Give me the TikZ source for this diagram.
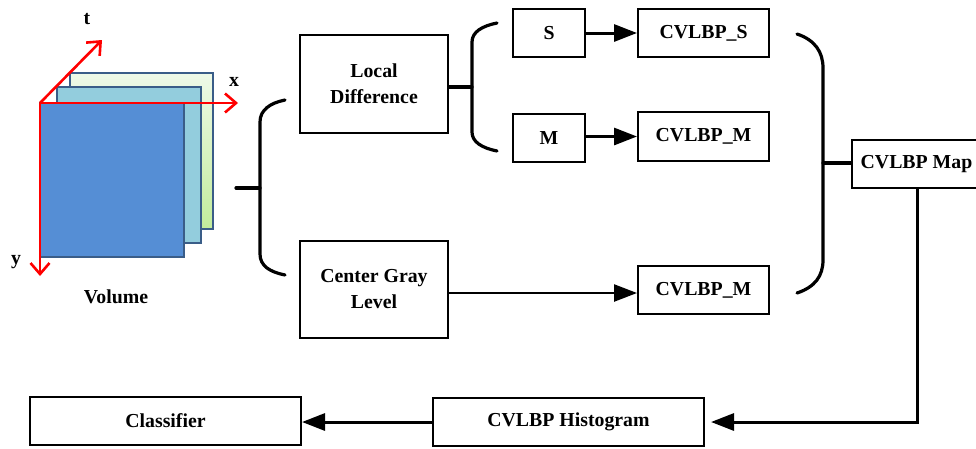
\documentclass[tikz,border=0pt]{standalone}
\usepackage{fontspec}
\setmainfont{Liberation Serif}
\usetikzlibrary{arrows.meta}
\definecolor{sqborder}{HTML}{3A5D88}
\definecolor{frontblue}{HTML}{558ED5}
\definecolor{midblue}{HTML}{93CDDD}
\definecolor{greentop}{HTML}{EEF9E8}
\definecolor{greenbot}{HTML}{C2EC9C}
\definecolor{axisred}{HTML}{FF0000}
\begin{document}
\begin{tikzpicture}[x=1pt,y=-1pt,
  font=\fontsize{19.8}{26}\selectfont\bfseries,
  box/.style={draw=black,line width=2pt,fill=white,inner sep=0pt,align=center},
  conn/.style={line width=3.2pt,line cap=round},
  thinconn/.style={line width=2.4pt},
  arr/.style={line width=3pt,-{Triangle[length=23pt,width=17pt]}},
  axis/.style={draw=axisred,line width=2.6pt,-{Straight Barb[length=11pt,width=19pt,line width=2.6pt]}},
  sq/.style={draw=sqborder,line width=1.8pt},
  lbl/.style={inner sep=0pt,anchor=base}]
\clip (0,0) rectangle (976,448);
\fill[white] (0,0) rectangle (976,448);
% volume
\shade[top color=greentop,bottom color=greenbot] (70,73) rectangle (213,229);
\draw[sq] (70,73) rectangle (213,229);
\draw[sq,fill=midblue] (57,87) rectangle (201,243);
\draw[sq,fill=frontblue] (40,103) rectangle (184,257);
\coordinate (O) at (40,103);
\coordinate (Xt) at (238,103);
\coordinate (Tt) at (102,40);
\coordinate (Yt) at (40,276);
\draw[axis] (O) -- (Xt);
\draw[axis] (O) -- (Tt);
\draw[axis] (O) -- (Yt);
\node[lbl] (tl) at (87,24) {t};
\node[lbl] (xl) at (234,86) {x};
\node[lbl] (yl) at (16,264) {y};
\node[lbl] (vol) at (116,303) {Volume};
% boxes
\node[box,minimum width=148pt,minimum height=98pt] (LD) at (374,84) {Local\\Difference};
\node[box,minimum width=148pt,minimum height=97pt] (CG) at (374,289.5) {Center Gray\\Level};
\node[box,minimum width=72pt,minimum height=48pt] (S) at (549,33) {S};
\node[box,minimum width=72pt,minimum height=48pt] (M) at (549,138) {M};
\node[box,minimum width=131pt,minimum height=48pt] (CS) at (703.5,33) {CVLBP\_S};
\node[box,minimum width=131pt,minimum height=49pt] (CM1) at (703.5,136.5) {CVLBP\_M};
\node[box,minimum width=131pt,minimum height=48pt] (CM2) at (703.5,290) {CVLBP\_M};
\node[box,minimum width=129pt,minimum height=48pt] (Map) at (916.5,164) {CVLBP Map};
\node[box,minimum width=271pt,minimum height=48pt] (Hist) at (568.5,422) {CVLBP Histogram};
\node[box,minimum width=271pt,minimum height=48pt] (Cls) at (165.5,421) {Classifier};
% brace 1
\coordinate (b1s) at (236,188);
\coordinate (b1m) at (260,188);
\draw[conn] (b1s) -- (b1m);
\draw[conn] (285,100) .. controls (270,103) and (260,110) .. (260,122) -- (260,254) .. controls (260,266) and (270,272) .. (285,275);
% brace 2
\draw[conn] (LD.east |- 0,87) -- (472,87);
\draw[conn] (497,23) .. controls (482,26) and (472,32) .. (472,42) -- (472,132) .. controls (472,142) and (482,148) .. (497,151);
% brace 3
\draw[conn] (797,34) .. controls (815,40) and (823,52) .. (823,68) -- (823,260) .. controls (823,276) and (815,287) .. (797,293);
\draw[conn] (823,163) -- (Map.west |- 0,163);
% arrows
\draw[arr] (S.east) -- (CS.west);
\draw[arr] (M.east |- CM1.west) -- (CM1.west);
\draw[thinconn,-{Triangle[length=23pt,width=17pt]}] (CG.east |- 0,293) -- (CM2.west |- 0,293);
\draw[arr,shorten >=6pt] (Map.south -| 917,0) -- (917,422) -- (Hist.east);
\draw[arr] (Hist.west) -- (Cls.east |- Hist.west);
\end{tikzpicture}
\end{document}
